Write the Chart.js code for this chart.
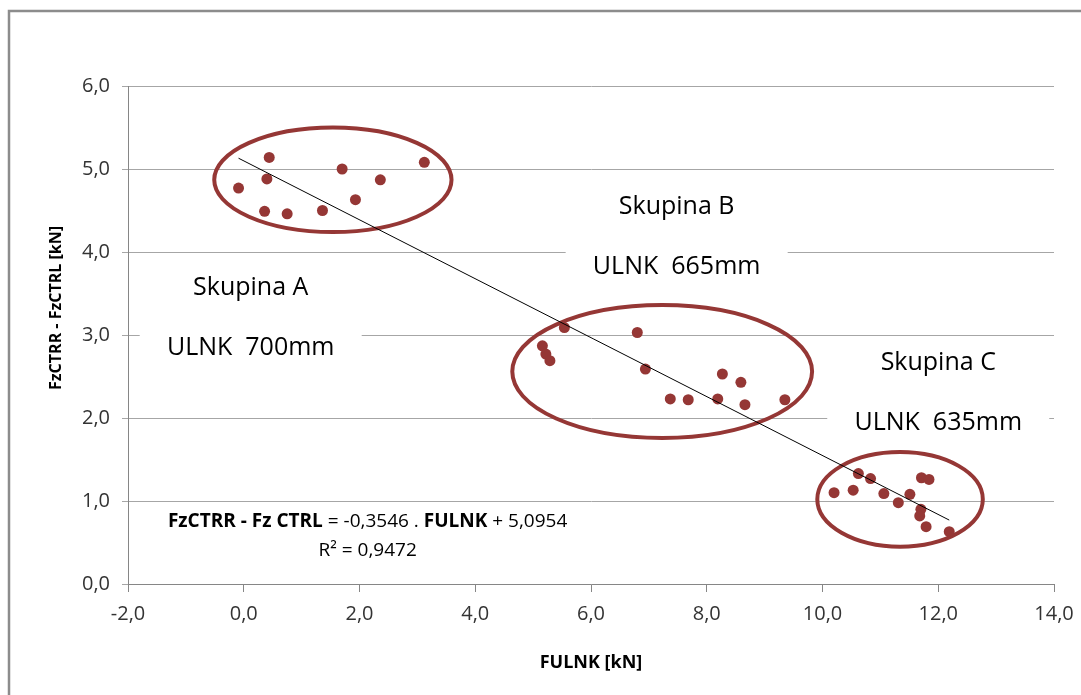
<!DOCTYPE html>
<html>
<head>
<meta charset="utf-8">
<script src="https://cdn.jsdelivr.net/npm/chart.js@4.4.1/dist/chart.umd.min.js"></script>
<style>
  html, body { margin: 0; padding: 0; background: #fff; }
  #wrap { width: 1081px; height: 695px; position: relative; }
</style>
</head>
<body>
<div id="wrap"><canvas id="graf"></canvas></div>
<script>
// --- data ---
const fulnk = [
  -0.09, 0.44, 0.40, 0.36, 0.75, 1.36, 1.70, 1.93, 2.36, 3.12,
  5.54, 6.80, 5.16, 5.22, 5.29, 6.94, 8.27, 8.59, 7.37, 7.68, 8.19, 8.66, 9.35,
  10.20, 10.53, 10.62, 10.83, 11.06, 11.31, 11.51, 11.71, 11.84, 11.70, 11.68, 11.79, 12.19
];
const fzRozdil = [
  4.77, 5.14, 4.88, 4.49, 4.46, 4.50, 5.00, 4.63, 4.87, 5.08,
  3.09, 3.03, 2.87, 2.77, 2.69, 2.59, 2.53, 2.43, 2.23, 2.22, 2.23, 2.16, 2.22,
  1.10, 1.13, 1.33, 1.27, 1.09, 0.98, 1.08, 1.28, 1.26, 0.90, 0.82, 0.69, 0.63
];
// trend line end points
const trendX = [-0.09, 12.19];
const trendY = [5.13, 0.77];

const xTicks = [-2, 0, 2, 4, 6, 8, 10, 12, 14];
const yTicks = [0, 1, 2, 3, 4, 5, 6];

const skupiny = ['Skupina A', 'Skupina B', 'Skupina C'];
const ulnk = ['ULNK  700mm', 'ULNK  665mm', 'ULNK  635mm'];

const r2 = 'R² = 0,9472';

const TMAVE_CERVENA = '#953735';
const fmt = v => v.toFixed(1).replace('.', ',');

// annotation layout (data coordinates)
const elipsy = [
  { cx: 1.54, cy: 4.87, rx: 2.05, ry: 0.63 },
  { cx: 7.23, cy: 2.56, rx: 2.59, ry: 0.80 },
  { cx: 11.34, cy: 1.02, rx: 1.43, ry: 0.57 }
];
const popisky = [
  { x: 0.12, y1: 3.57, y2: 2.84 },
  { x: 7.48, y1: 4.54, y2: 3.82 },
  { x: 12.0, y1: 2.66, y2: 1.94 }
];

const anotacePlugin = {
  id: 'anotace',
  beforeDatasetsDraw(chart) {
    const { ctx, scales: { x, y } } = chart;
    ctx.save();
    // white text boxes hiding the grid lines
    popisky.forEach((p, i) => {
      const px = x.getPixelForValue(p.x);
      const top = y.getPixelForValue(p.y1) - 26;
      const bot = y.getPixelForValue(p.y2) + 26;
      ctx.fillStyle = '#fff';
      ctx.fillRect(px - 111, top, 222, bot - top);
      ctx.fillStyle = '#000';
      ctx.font = '25px "Open Sans"';
      ctx.textAlign = 'center';
      ctx.textBaseline = 'middle';
      ctx.fillText(skupiny[i], px, y.getPixelForValue(p.y1));
      ctx.fillText(ulnk[i], px, y.getPixelForValue(p.y2));
    });
    // ellipses round the groups
    ctx.strokeStyle = TMAVE_CERVENA;
    ctx.lineWidth = 4;
    elipsy.forEach(e => {
      const cx = x.getPixelForValue(e.cx);
      const cy = y.getPixelForValue(e.cy);
      const rx = Math.abs(x.getPixelForValue(e.cx + e.rx) - cx);
      const ry = Math.abs(y.getPixelForValue(e.cy + e.ry) - cy);
      ctx.beginPath();
      ctx.ellipse(cx, cy, rx, ry, 0, 0, Math.PI * 2);
      ctx.stroke();
    });
    // regression equation
    const ex = x.getPixelForValue(2.14);
    ctx.fillStyle = '#000';
    ctx.textBaseline = 'middle';
    const casti = [
      ['FzCTRR - Fz CTRL', true], [' = -0,3546 . ', false],
      ['FULNK', true], [' + 5,0954', false]
    ];
    let sirka = 0;
    casti.forEach(([t, b]) => {
      ctx.font = (b ? 'bold ' : '') + '19px "Open Sans"';
      sirka += ctx.measureText(t).width;
    });
    let cx = ex - sirka / 2;
    const ey = y.getPixelForValue(0.75);
    ctx.textAlign = 'left';
    casti.forEach(([t, b]) => {
      ctx.font = (b ? 'bold ' : '') + '19px "Open Sans"';
      ctx.fillText(t, cx, ey);
      cx += ctx.measureText(t).width;
    });
    ctx.font = '19px "Open Sans"';
    ctx.textAlign = 'center';
    ctx.fillText(r2, ex, y.getPixelForValue(0.40));
    ctx.restore();
  },
  afterDraw(chart) {
    const { ctx } = chart;
    ctx.save();
    // y axis title
    ctx.translate(56, 308);
    ctx.rotate(-Math.PI / 2);
    ctx.font = 'bold 16px "Open Sans"';
    ctx.fillStyle = '#000';
    ctx.textAlign = 'center';
    ctx.textBaseline = 'middle';
    ctx.fillText('FzCTRR - FzCTRL [kN]', 0, 0);
    ctx.restore();
    // outer frame
    ctx.save();
    ctx.strokeStyle = '#8c8c8c';
    ctx.lineWidth = 2.5;
    ctx.strokeRect(9, 11, chart.width + 20, chart.height + 20);
    ctx.restore();
  }
};

const ctx = document.getElementById('graf').getContext('2d');
new Chart(ctx, {
  type: 'scatter',
  data: {
    datasets: [
      {
        type: 'line',
        label: 'trend',
        data: trendX.map((v, i) => ({ x: v, y: trendY[i] })),
        borderColor: '#000',
        borderWidth: 1,
        pointRadius: 0,
        fill: false,
        order: 0
      },
      {
        label: 'FzCTRR - FzCTRL',
        data: fulnk.map((v, i) => ({ x: v, y: fzRozdil[i] })),
        backgroundColor: TMAVE_CERVENA,
        borderColor: TMAVE_CERVENA,
        borderWidth: 0,
        pointRadius: 5.5,
        order: 1
      }
    ]
  },
  options: {
    responsive: true,
    maintainAspectRatio: false,
    animation: false,
    layout: { padding: { top: 86, right: 27, left: 0, bottom: 0 } },
    plugins: {
      legend: { display: false },
      tooltip: { enabled: false }
    },
    scales: {
      x: {
        type: 'linear',
        min: -2,
        max: 14,
        afterBuildTicks: s => { s.ticks = xTicks.map(v => ({ value: v })); },
        afterFit: s => { s.height = 111; s.paddingLeft = 0; s.paddingRight = 0; },
        grid: { drawOnChartArea: false, drawTicks: true, tickLength: 8, color: '#868686' },
        border: { color: '#868686', width: 1 },
        ticks: { callback: fmt, color: '#333', font: { family: 'Open Sans', size: 20 }, padding: 10, maxRotation: 0 },
        title: {
          display: true,
          text: 'FULNK [kN]',
          color: '#000',
          font: { family: 'Open Sans', size: 18, weight: 'bold' },
          padding: { top: 4, bottom: 21 }
        }
      },
      y: {
        type: 'linear',
        min: 0,
        max: 6,
        afterBuildTicks: s => { s.ticks = yTicks.map(v => ({ value: v })); },
        afterFit: s => { s.width = 128; s.paddingTop = 0; s.paddingBottom = 0; },
        grid: { color: '#a6a6a6', tickLength: 6, lineWidth: 1 },
        border: { color: '#868686', width: 1 },
        ticks: { callback: fmt, color: '#333', font: { family: 'Open Sans', size: 20 }, padding: 12 }
      }
    }
  },
  plugins: [anotacePlugin]
});
</script>
</body>
</html>
